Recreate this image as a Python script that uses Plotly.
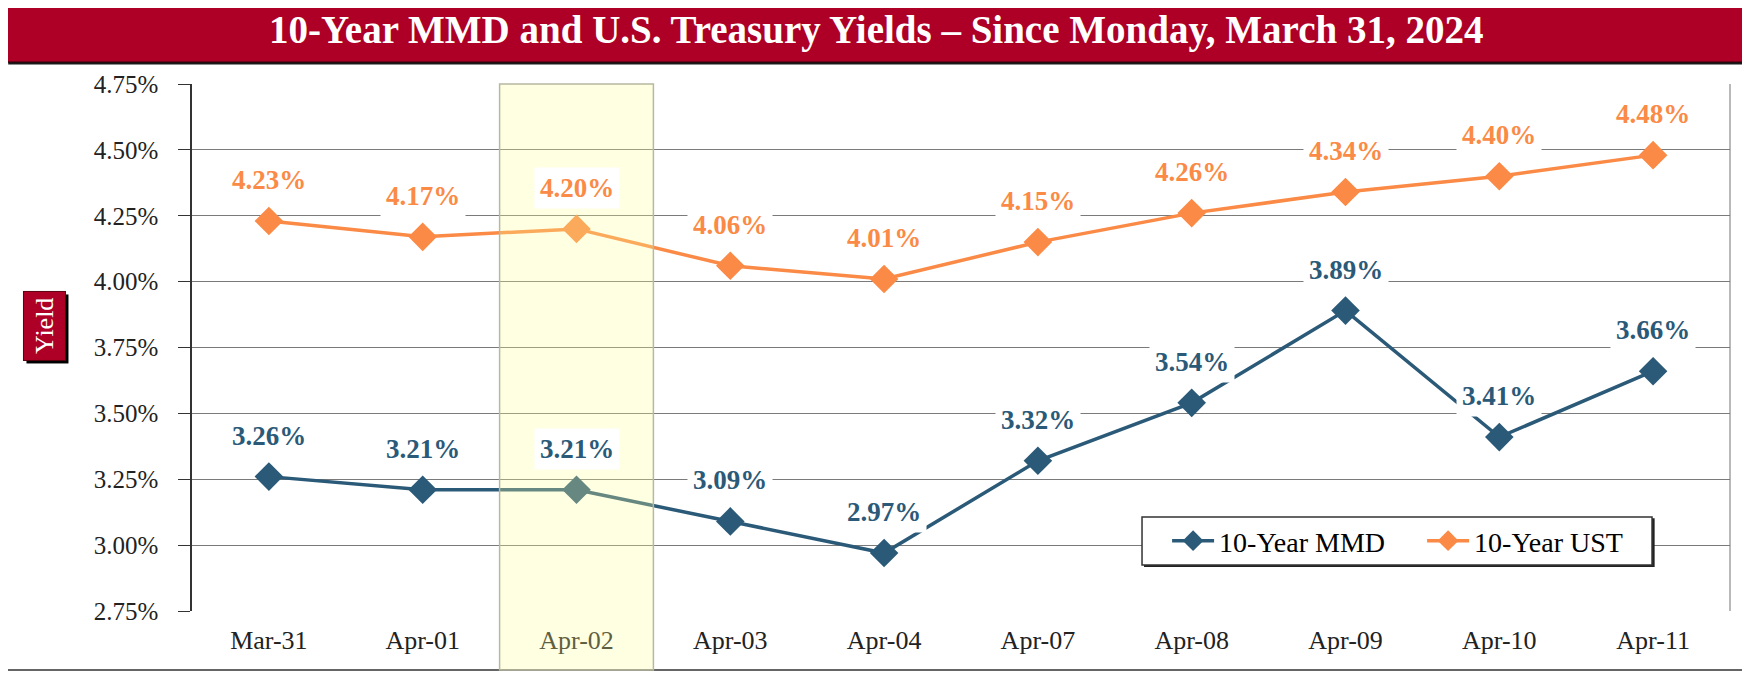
import plotly.graph_objects as go

dates = ["Mar-31", "Apr-01", "Apr-02", "Apr-03", "Apr-04", "Apr-07", "Apr-08", "Apr-09", "Apr-10", "Apr-11"]
mmd = [3.26, 3.21, 3.21, 3.09, 2.97, 3.32, 3.54, 3.89, 3.41, 3.66]
ust = [4.23, 4.17, 4.20, 4.06, 4.01, 4.15, 4.26, 4.34, 4.40, 4.48]
y_ticks = [2.75, 3.00, 3.25, 3.50, 3.75, 4.00, 4.25, 4.50, 4.75]
highlight_date = "Apr-02"

MMD_COLOR = "#2B5A78"
UST_COLOR = "#FA8A45"
RED = "#AE0026"
FONT = "Liberation Serif"

x_idx = list(range(len(dates)))

fig = go.Figure()
fig.add_trace(go.Scatter(
    x=x_idx, y=mmd, mode="lines+markers", name="10-Year MMD",
    line=dict(color=MMD_COLOR, width=3.5),
    marker=dict(symbol="diamond", size=22, color=MMD_COLOR),
))
fig.add_trace(go.Scatter(
    x=x_idx, y=ust, mode="lines+markers", name="10-Year UST",
    line=dict(color=UST_COLOR, width=3.5),
    marker=dict(symbol="diamond", size=22, color=UST_COLOR),
))

annotations = []
for i, v in enumerate(mmd):
    annotations.append(dict(x=i, y=v, xref="x", yref="y", text=f"{v:.2f}%", showarrow=False,
                            yshift=41, bgcolor="white", borderpad=5,
                            font=dict(family=FONT, size=27, color=MMD_COLOR, weight="bold")))
for i, v in enumerate(ust):
    annotations.append(dict(x=i, y=v, xref="x", yref="y", text=f"{v:.2f}%", showarrow=False,
                            yshift=41, bgcolor="white", borderpad=5,
                            font=dict(family=FONT, size=27, color=UST_COLOR, weight="bold")))

# title text
annotations.append(dict(x=0.4447, y=1.1025, xref="paper", yref="paper", showarrow=False,
                        text="10-Year MMD and U.S. Treasury Yields \u2013 Since Monday, March 31, 2024",
                        font=dict(family=FONT, size=39, color="white", weight="bold"),
                        xanchor="center", yanchor="middle"))
# Yield label shadow + label
annotations.append(dict(x=-0.0956, y=0.5408, xref="paper", yref="paper", showarrow=False,
                        text="Yield", textangle=-90, xshift=3, yshift=-3,
                        xanchor="center", yanchor="middle",
                        bgcolor="black", borderpad=6,
                        font=dict(family=FONT, size=26, color="black")))
annotations.append(dict(x=-0.0956, y=0.5408, xref="paper", yref="paper", showarrow=False,
                        text="Yield", textangle=-90,
                        xanchor="center", yanchor="middle",
                        bgcolor=RED, borderpad=6, bordercolor="#5a0010", borderwidth=1,
                        font=dict(family=FONT, size=26, color="white")))

hi = dates.index(highlight_date)
shapes = [
    # outer border
    dict(type="rect", xref="paper", yref="paper", x0=-0.1209, x1=1.0098, y0=-0.112, y1=1.0417,
         line=dict(color="#333333", width=1.5), fillcolor="rgba(0,0,0,0)", layer="below"),
    # title bar shadow
    dict(type="rect", xref="paper", yref="paper", x0=-0.1195, x1=1.0118, y0=1.037, y1=1.1500,
         line=dict(width=0), fillcolor="#1a1a1a", layer="below"),
    # title bar
    dict(type="rect", xref="paper", yref="paper", x0=-0.1209, x1=1.0098, y0=1.0417, y1=1.1537,
         line=dict(color="#300008", width=1), fillcolor=RED, layer="below"),
    # plot area right border
    dict(type="line", xref="paper", yref="paper", x0=1, x1=1, y0=0, y1=1,
         line=dict(color="#8a8a8a", width=1.2), layer="below"),
    # legend box shadow
    dict(type="rect", xref="paper", yref="paper", x0=0.6190, x1=0.9510, y0=0.0835, y1=0.1760,
         line=dict(width=0), fillcolor="#222222", layer="above"),
    # legend box
    dict(type="rect", xref="paper", yref="paper", x0=0.6177, x1=0.9493, y0=0.0873, y1=0.1784,
         line=dict(color="#333333", width=1.5), fillcolor="white", layer="above"),
    # highlight column
    dict(type="rect", xref="x", yref="paper", x0=hi - 0.5, x1=hi + 0.5, y0=-0.112, y1=1.0,
         line=dict(color="#B8B8A0", width=1.5), fillcolor="rgba(255,255,150,0.28)", layer="above"),
]

fig.update_layout(
    width=1742, height=665,
    margin=dict(l=184, r=20, t=76, b=62),
    paper_bgcolor="white", plot_bgcolor="white",
    showlegend=True,
    legend=dict(orientation="h", x=0.634, y=0.1329, xanchor="left", yanchor="middle",
                bgcolor="rgba(0,0,0,0)", borderwidth=0,
                font=dict(family=FONT, size=28, color="black"),
                itemwidth=42, entrywidthmode="pixels", entrywidth=198,
                ),
    xaxis=dict(tickmode="array", tickvals=x_idx, ticktext=dates, range=[-0.5, len(dates) - 0.5],
               showgrid=False, zeroline=False, showline=False, ticks="",
               ticklabelstandoff=11,
               tickfont=dict(family=FONT, size=26, color="#222222")),
    yaxis=dict(range=[2.75, 4.75], tickmode="array", tickvals=y_ticks,
               ticktext=[f"{t:.2f}%" for t in y_ticks],
               showgrid=True, gridcolor="#7a7a7a", gridwidth=1.2,
               zeroline=False, showline=True, linecolor="#333333", linewidth=1.5,
               ticks="outside", ticklen=12, tickcolor="#333333", ticklabelstandoff=15,
               tickfont=dict(family=FONT, size=25, color="#222222")),
    annotations=annotations,
    shapes=shapes,
)

fig.write_html("out.html")
